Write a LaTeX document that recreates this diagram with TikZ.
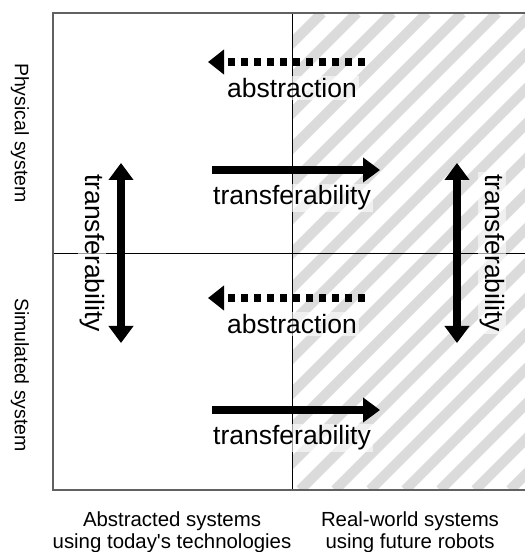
\documentclass[tikz,border=0pt]{standalone}
\usepackage{fontspec}
\setmainfont{Liberation Sans}
\usetikzlibrary{arrows.meta}
\tikzset{
	stripe/.style={line width=10pt, black!14},
	solidarrow/.style={line width=7.5pt, -{Triangle[width=24pt,length=17pt]}},
	dotarrow/.style={line width=7.5pt, dash pattern=on 7.5pt off 5.5pt, -{Triangle[width=24pt,length=16pt]}},
	twoarrow/.style={line width=7.5pt, {Triangle[width=24pt,length=17pt]}-{Triangle[width=24pt,length=17pt]}},
	arrowlabel/.style={font=\fontsize{26.5}{30}\selectfont, fill=white, fill opacity=0.6, text opacity=1, inner sep=2pt},
	sidelabel/.style={font=\fontsize{19.5}{22}\selectfont, rotate=-90},
	baselabel/.style={font=\fontsize{20.4}{22.5}\selectfont, align=center}
}
\begin{document}
\begin{tikzpicture}[x=1pt,y=1pt]
		\clip (0,0) rectangle (525,552);
		\fill[white] (0,0) rectangle (525,552);
		\begin{scope}
			\clip (292,62) rectangle (540,539);
			\foreach \i in {-15,...,8}{
				\draw[stripe] (300+35*\i,62) -- (777+35*\i,539);
			}
		\end{scope}
		\draw[line width=0.8pt] (292,62) -- (292,539);
		\draw[line width=0.8pt] (53,299) -- (540,299);
		\draw[line width=1.5pt, black!62] (540,539) -- (53,539) -- (53,62) -- (540,62);
		\node[sidelabel] (phys) at (20,419) {Physical system};
		\node[sidelabel] (sim) at (20,177) {Simulated system};
		\node[baselabel] (today) at (172,20) {Abstracted systems\\using today\textquotesingle s technologies};
		\node[baselabel] (future) at (410,20) {Real-world systems\\using future robots};
		\foreach \n\y in {abstop/490,absbot/254}{
			\coordinate (\n s) at (365,\y);
			\coordinate (\n e) at (208,\y);
			\draw[dotarrow] (\n s) -- (\n e);
			\node[arrowlabel] (\n l) at (292,\y-26) {abstraction};
		}
		\foreach \n\y in {trtop/382,trbot/142}{
			\coordinate (\n s) at (212,\y);
			\coordinate (\n e) at (380,\y);
			\draw[solidarrow] (\n s) -- (\n e);
			\node[arrowlabel] (\n l) at (292,\y-28) {transferability};
		}
		\foreach \n\x\lx in {left/121/92,right/457/492}{
			\coordinate (\n s) at (\x,389);
			\coordinate (\n e) at (\x,209);
			\draw[twoarrow] (\n s) -- (\n e);
			\node[arrowlabel, rotate=-90] (\n l) at (\lx,299) {transferability};
		}
\end{tikzpicture}
\end{document}
